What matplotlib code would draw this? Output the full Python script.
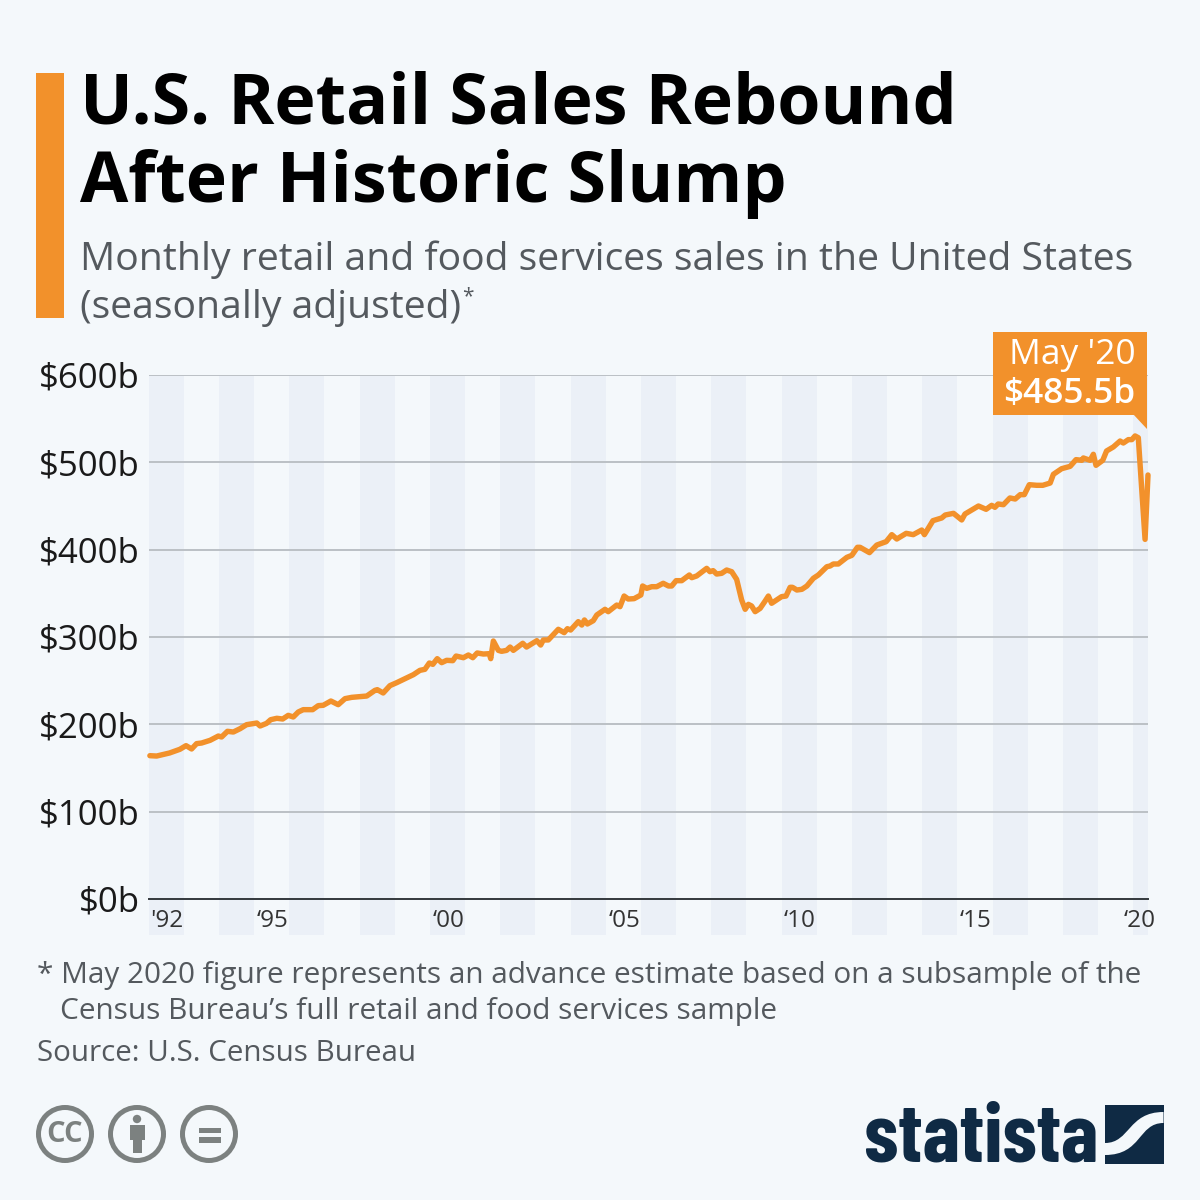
import matplotlib
matplotlib.use("Agg")
import matplotlib.pyplot as plt
from matplotlib.patches import Rectangle, Polygon, Circle, PathPatch
from matplotlib.path import Path

# ---- data: months since Jan 1992, sales in $b
months = [0.3,2.6,7,10.5,12.6,14.5,16.2,17.9,20.8,23.6,24.7,26.7,28.7,31,33.2,36.7,37.8,40,41.4,43.5,
          45.5,47.4,49.1,50.8,52.5,55.7,57.6,59.3,61.9,64.4,66.7,69,74.1,76.9,77.7,79.7,82,84.3,90,92.2,
          93.9,95.4,96.6,98.1,99.6,101.3,103.4,104.5,107,108.7,110.2,111.7,113.8,115.8,116.3,117.2,118.9,120,121.7,122.9,
          124,127.2,128.5,132,133.3,134.2,135.9,139.3,141.3,142.4,143.5,146.1,147.3,148.2,149.2,151.2,152.4,155.2,156.3,159.2,
          160.3,161.7,163.1,165.1,167.4,168,169.4,171.1,172.8,175,176.8,177.9,179.4,181.3,183.9,184.7,186.4,189.8,190.9,192,
          193.2,194.9,196.6,198.3,200,201.7,202.9,204,205.1,206.3,208,209.7,210.8,211.9,215.3,216.8,218.2,219,220.5,222.2,
          223.9,226.1,227.8,230.7,231.8,232.9,234.6,237.5,239.2,241.1,242,245.2,247.7,250.9,252.8,254.5,257.7,260.1,263,263.9,
          266.8,269.8,271,273.8,276.6,277.7,280,282.3,284.9,286.8,287.9,289,290.8,293,294.8,296.5,297.9,299.6,302.1,304.2,
          306.7,307.8,310.6,313.5,315.5,317.5,318,320.3,321.4,322.3,324.6,325.9,328.2,330.5,331.6,333.3,334.5,335.6,336.7,339,340]
sales = [164.1,163.7,167.2,171.4,175.6,171.8,177.9,178.6,181.7,186.6,185.5,192,191.2,195,199.6,201.5,198.1,201.1,205.3,206.9,
         206.1,210.3,208.4,214.1,216.8,216.8,221.4,221.8,226.7,222.5,229.4,230.9,232.4,238.9,239.7,235.9,244.3,247.7,256.9,261.8,
         263,270.2,268.7,275.2,270.6,273.3,272.9,278.2,276.3,279.4,276.3,281.7,280.5,280.9,275.2,295.4,284.7,283.6,284.7,288.5,
         284.7,292.8,288.5,295.8,290.8,296.6,296.6,308.8,305,309.5,308,317.6,313.7,319.5,314.9,318.7,325.2,331.7,329,336.6,
         334.7,346.9,343.5,343.9,348.1,358.4,355.7,357.6,357.6,361.5,358.4,358.4,364.5,364.5,371,367.9,369.9,378.6,374.8,376,
         372.1,372.9,376.7,374.8,366,342.4,331.7,337.4,335.5,329,332.8,341.2,346.9,338.6,346.2,346.9,356.9,356.9,353.8,354.6,
         358.4,367.2,371,380.5,381.3,383.6,383.6,391.2,393.5,402.7,402.7,396.6,405.3,409.2,417.2,412.2,418.7,417.2,422.5,417.2,
         433.2,436.3,439.7,441.6,434,440.8,445.4,450,446.2,450.8,448.5,452.3,451.5,459.2,458,463,463,474.4,473.7,473.7,
         476.3,486.3,492.7,495.4,503.1,502.3,505,502.3,509.2,496.6,502.3,513,517.6,524.4,522.1,526,526,530.2,528.2,411.8,485.5]

y_ticks = [0, 100, 200, 300, 400, 500, 600]
y_labels = ["$0b", "$100b", "$200b", "$300b", "$400b", "$500b", "$600b"]
x_tick_months = [6, 42, 102, 161.7, 221.4, 281.4, 337]
x_labels = ["'92", "‘95", "‘00", "‘05", "‘10", "‘15", "‘20"]
band_start_months = [0, 23.8, 47.7, 71.8, 95.6, 119.5, 143.6, 167.5, 191.3, 215.5, 239.3, 263.1, 287.3, 311.1, 334.9]
band_width_months = 12

BG = "#f4f8fb"
ORANGE = "#f2912b"
BAND = "#ebf0f7"
GRID = "#b7bcc1"
TEXT = "#54595e"
NAVY = "#0f2a44"
ICON = "#7c8180"
FONT = "Open Sans"

plt.rcParams["font.family"] = [FONT, "DejaVu Sans"]
fig = plt.figure(figsize=(12, 12), dpi=100, facecolor=BG)

# ---- chart
ax = fig.add_axes([149/1200, 1-899/1200, (1148-149)/1200, (899-375)/1200], facecolor="none")
ax.set_xlim(0, 340)
ax.set_ylim(0, 600)
below = -36/524
for s in band_start_months:
    ax.axvspan(s, min(s+band_width_months, 340), ymin=below, ymax=1, color=BAND, lw=0, clip_on=False, zorder=0)
for v in y_ticks[1:]:
    ax.axhline(v, color=GRID, lw=1.3, zorder=1)
ax.axhline(0, color="#33383c", lw=1.4, zorder=2, clip_on=False)
ax.plot(months, sales, color=ORANGE, lw=3.9, solid_joinstyle="round", solid_capstyle="round", zorder=3, clip_on=False)
for sp in ax.spines.values():
    sp.set_visible(False)
ax.set_yticks(y_ticks, y_labels, fontsize=25.0, color="#1a1a1a")
ax.set_xticks(x_tick_months, x_labels, fontsize=17.5, color="#333333")
ax.tick_params(axis="both", length=0)
ax.tick_params(axis="y", pad=6.5)
ax.tick_params(axis="x", pad=7)

# ---- overlay in pixel units
ov = fig.add_axes([0, 0, 1, 1], facecolor="none")
ov.set_xlim(0, 1200)
ov.set_ylim(1200, 0)
ov.axis("off")

ov.add_patch(Rectangle((36, 73), 28, 245, color=ORANGE, lw=0))
ov.text(80, 124, "U.S. Retail Sales Rebound", fontsize=50.4, fontweight="bold", color="black", va="baseline")
ov.text(80, 202, "After Historic Slump", fontsize=50.4, fontweight="bold", color="black", va="baseline")
ov.text(80, 270, "Monthly retail and food services sales in the United States", fontsize=28.14, color=TEXT, va="baseline")
ov.text(80, 318, "(seasonally adjusted)", fontsize=28.14, color=TEXT, va="baseline")
ov.text(462, 302, "*", fontsize=15, color=TEXT, va="baseline")

# callout
ov.add_patch(Rectangle((993, 332), 153.5, 83, color=ORANGE, lw=0, zorder=5))
ov.add_patch(Polygon([(1133, 414), (1146.5, 414), (1146.5, 429)], closed=True, color=ORANGE, lw=0, zorder=5))
ov.text(1136, 364, "May '20", fontsize=25.5, color="white", ha="right", va="baseline", zorder=6)
ov.text(1135.5, 403, "$485.5b", fontsize=25.4, color="white", fontweight="semibold", ha="right", va="baseline", zorder=6)

# notes
ov.text(37, 983, "* May 2020 figure represents an advance estimate based on a subsample of the", fontsize=21.4, color=TEXT, va="baseline")
ov.text(60, 1019, "Census Bureau’s full retail and food services sample", fontsize=21.4, color=TEXT, va="baseline")
ov.text(37, 1061, "Source: U.S. Census Bureau", fontsize=21.3, color=TEXT, va="baseline")

# licence icons
for cx in (65, 137, 209):
    ov.add_patch(Circle((cx, 1134), 26.5, fc="none", ec=ICON, lw=3.6))
ov.text(65, 1135, "CC", fontsize=21, fontweight="bold", color=ICON, ha="center", va="center")
ov.add_patch(Circle((137, 1119), 4.2, color=ICON, lw=0))
ov.add_patch(Rectangle((129.5, 1125), 15.5, 15, color=ICON, lw=0))
ov.add_patch(Rectangle((132.5, 1139), 9.5, 14, color=ICON, lw=0))
ov.add_patch(Rectangle((199, 1127.5), 22, 5.5, color=ICON, lw=0))
ov.add_patch(Rectangle((199, 1137), 22, 5.5, color=ICON, lw=0))

# statista logo
ov.text(864, 1162, "statista", fontsize=60, fontweight="bold", color=NAVY, va="baseline",
        family=["Barlow Condensed", "Roboto"])
ov.add_patch(Rectangle((1105, 1105), 58.5, 58.5, color=NAVY, lw=0))
band = Path([(1105, 1143), (1130, 1143), (1128, 1112), (1163.5, 1112), (1163.5, 1123),
             (1138, 1123), (1142, 1155), (1105, 1155), (1105, 1143)],
            [Path.MOVETO, Path.CURVE4, Path.CURVE4, Path.CURVE4, Path.LINETO,
             Path.CURVE4, Path.CURVE4, Path.CURVE4, Path.CLOSEPOLY])
ov.add_patch(PathPatch(band, fc=BG, ec="none"))

fig.savefig("out.png", dpi=100, facecolor=BG)
